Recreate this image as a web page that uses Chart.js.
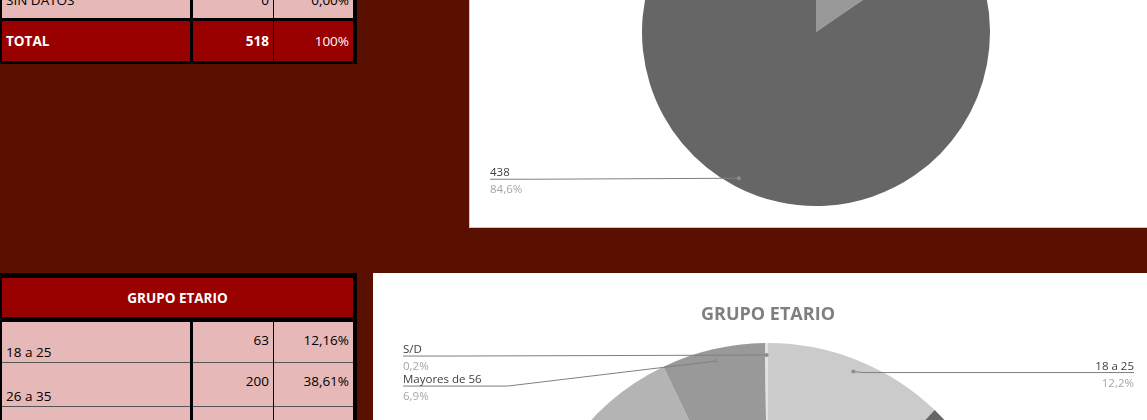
<!DOCTYPE html>
<html>
<head>
<meta charset="utf-8">
<script src="https://cdn.jsdelivr.net/npm/chart.js@4.4.1/dist/chart.umd.min.js"></script>
<style>
  body { margin: 0; width: 1147px; height: 420px; overflow: hidden; background: #5a1000; position: relative; font-family: 'Open Sans', sans-serif; }
  .abs { position: absolute; box-sizing: border-box; }
  .cell { position: absolute; box-sizing: border-box; display: flex; font-size: 13.5px; line-height: 18px; padding: 0 4px; white-space: nowrap; }
  .pink { background: #e6b8b7; color: #000; }
  .red { background: #990000; color: #fff; }
  .panel { position: absolute; background: #fff; overflow: hidden; }
</style>
</head>
<body>
<div id="tables"></div>
<div class="panel" id="panel1" style="left:469px; top:0; width:678px; height:228px; box-shadow: inset 1px -1px 0 #c8c8c8;">
  <canvas id="pie1" width="678" height="400" style="position:absolute; left:0; top:-168px;"></canvas>
</div>
<div class="panel" id="panel2" style="left:373px; top:273px; width:774px; height:147px;">
  <canvas id="pie2" width="774" height="600" style="position:absolute; left:0; top:0;"></canvas>
</div>
<script>
// first table / pie (only the bottom of it is visible)
const topLabels = ['OTROS', 'SIN DATO PIE', 'SIN DATOS'];
const topValues = [80, 438, 0];
const topColors = ['#999999', '#666666', '#d9d9d9'];
const topTotal = 518;

// grupo etario
const ageTitle = 'GRUPO ETARIO';
const ageLabels = ['18 a 25', '26 a 35', '36 a 45', '46 a 55', 'Mayores de 56', 'S/D'];
const ageValues = [63, 200, 128, 90, 36, 1];
const ageColors = ['#cbcbcb', '#666666', '#828282', '#b4b4b4', '#999999', '#e2e2e2'];

const tables = document.getElementById('tables');

function box(x, y, w, h, bg) {
  const d = document.createElement('div');
  d.className = 'abs';
  d.style.cssText += `left:${x}px;top:${y}px;width:${w}px;height:${h}px;background:${bg};`;
  tables.appendChild(d);
  return d;
}

function cell(x, y, w, h, cls, text, css) {
  const d = document.createElement('div');
  d.className = 'cell ' + cls;
  d.style.cssText += `left:${x}px;top:${y}px;width:${w}px;height:${h}px;` + (css || '');
  d.textContent = text;
  tables.appendChild(d);
  return d;
}

function pct2(v, total) {
  return (v / total * 100).toFixed(2).replace('.', ',') + '%';
}

// top table
box(0, -30, 357, 94, '#000');
cell(2, -22, 188, 40, 'pink', topLabels[2], 'align-items:flex-start;padding-top:13px;');
cell(193, -22, 80, 40, 'pink', topValues[2], 'align-items:flex-start;padding-top:13px;justify-content:flex-end;');
cell(274, -22, 79, 40, 'pink', pct2(topValues[2], topTotal), 'align-items:flex-start;padding-top:13px;justify-content:flex-end;');
cell(2, 21, 188, 40, 'red', 'TOTAL', 'align-items:center;font-weight:bold;');
cell(193, 21, 80, 40, 'red', topTotal, 'align-items:center;justify-content:flex-end;font-weight:bold;');
cell(274, 21, 79, 40, 'red', '100%', 'align-items:center;justify-content:flex-end;');

// bottom table
box(0, 273, 357, 200, '#000');
cell(2, 278, 351, 39, 'red', ageTitle, 'align-items:center;justify-content:center;font-weight:bold;');
const ageTotal = ageValues.reduce((a, b) => a + b, 0);
const rowTops = [322, 363, 407];
const rowHeights = [41, 44, 44];
rowTops.forEach((y, i) => {
  const h = rowHeights[i];
  const sep = 'border-bottom:1px solid #555;';
  cell(2, y, 188, h, 'pink', ageLabels[i], 'align-items:flex-end;padding-bottom:1px;' + sep);
  cell(193, y, 80, h, 'pink', ageValues[i], 'align-items:flex-start;padding-top:9px;justify-content:flex-end;' + sep);
  cell(274, y, 79, h, 'pink', pct2(ageValues[i], ageTotal), 'align-items:flex-start;padding-top:9px;justify-content:flex-end;' + sep);
});

// leader-line labels like the spreadsheet's "best fit" callouts
const calloutPlugin = {
  id: 'callouts',
  afterDatasetsDraw(chart, args, opts) {
    const ctx = chart.ctx;
    const meta = chart.getDatasetMeta(0);
    const values = chart.data.datasets[0].data;
    const total = values.reduce((a, b) => a + b, 0);
    const left = [], right = [];
    meta.data.forEach((arc, i) => {
      if (!values[i]) return;
      const p = arc.getProps(['x', 'y', 'startAngle', 'endAngle', 'outerRadius'], true);
      const mid = (p.startAngle + p.endAngle) / 2;
      const r = p.outerRadius * 0.95;
      const item = {
        name: opts.showValue ? String(values[i]) : chart.data.labels[i],
        pct: (values[i] / total * 100).toFixed(1).replace('.', ',') + '%',
        dx: p.x + Math.cos(mid) * r,
        dy: p.y + Math.sin(mid) * r
      };
      (Math.cos(mid) > 0 ? right : left).push(item);
    });
    ctx.save();
    ctx.font = '11.5px "Open Sans"';
    ctx.lineWidth = 1;
    [left, right].forEach((list, side) => {
      list.sort((a, b) => a.dy - b.dy);
      let prev = -1e9;
      list.forEach(it => {
        const ly = Math.max(it.dy + 1, prev + 30);
        prev = ly;
        const tw = ctx.measureText(it.name).width;
        ctx.strokeStyle = '#7f7f7f';
        ctx.beginPath();
        if (side === 0) {
          const x0 = opts.left;
          ctx.moveTo(x0, ly);
          ctx.lineTo(x0 + tw + 26, ly);
          ctx.lineTo(it.dx, it.dy);
          ctx.stroke();
          ctx.textAlign = 'left';
          ctx.fillStyle = '#404040';
          ctx.fillText(it.name, x0, ly - 3);
          ctx.fillStyle = '#a6a6a6';
          ctx.fillText(it.pct, x0, ly + 14);
        } else {
          const x1 = chart.width - opts.right;
          ctx.moveTo(it.dx, it.dy);
          ctx.lineTo(it.dx + 10, ly);
          ctx.lineTo(x1, ly);
          ctx.stroke();
          ctx.textAlign = 'right';
          ctx.fillStyle = '#404040';
          ctx.fillText(it.name, x1, ly - 3);
          ctx.fillStyle = '#a6a6a6';
          ctx.fillText(it.pct, x1, ly + 14);
        }
        ctx.fillStyle = '#8c8c8c';
        ctx.beginPath();
        ctx.arc(it.dx, it.dy, 2, 0, Math.PI * 2);
        ctx.fill();
      });
    });
    ctx.restore();
  }
};

const arcStyle = { borderWidth: 0, offset: 0, hoverOffset: 0 };

new Chart(document.getElementById('pie1'), {
  type: 'pie',
  data: {
    labels: topLabels,
    datasets: [Object.assign({ data: topValues, backgroundColor: topColors }, arcStyle)]
  },
  options: {
    responsive: false,
    animation: false,
    events: [],
    layout: { padding: { left: 16, right: 0, top: 26, bottom: 26 } },
    plugins: {
      legend: { display: false },
      tooltip: { enabled: false },
      callouts: { showValue: true, left: 21, right: 14 }
    }
  },
  plugins: [calloutPlugin]
});

new Chart(document.getElementById('pie2'), {
  type: 'pie',
  data: {
    labels: ageLabels,
    datasets: [Object.assign({ data: ageValues, backgroundColor: ageColors }, arcStyle)]
  },
  options: {
    responsive: false,
    animation: false,
    events: [],
    layout: { padding: { left: 16, right: 0, top: 0, bottom: 48 } },
    plugins: {
      legend: { display: false },
      tooltip: { enabled: false },
      title: {
        display: true,
        text: ageTitle,
        color: '#7f7f7f',
        font: { family: 'Open Sans', size: 18, weight: 'bold', lineHeight: 1.2 },
        padding: { top: 31, bottom: 17.4 }
      },
      callouts: { showValue: false, left: 30, right: 13 }
    }
  },
  plugins: [calloutPlugin]
});
</script>
</body>
</html>
